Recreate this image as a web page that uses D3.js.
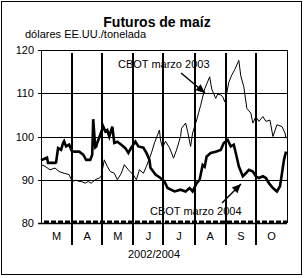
<!DOCTYPE html>
<html>
<head>
<meta charset="utf-8">
<script src="https://cdn.jsdelivr.net/npm/d3@7"></script>
<style>
  body { margin: 0; background: #fff; }
  text { font-family: "Liberation Sans", Arial, sans-serif; fill: #000; }
</style>
</head>
<body>
<svg id="chart"></svg>
<script>
// Chart size and plot area
const width = 305;
const height = 278;
const margin = { top: 50, right: 18, bottom: 55, left: 41 };

// Data
const monthLabels = ["M", "A", "M", "J", "J", "A", "S", "O"];
const yTicks = [80, 90, 100, 110, 120];

const mar03Dates = ["03-01", "03-05", "03-10", "03-15", "03-19", "03-24", "03-29",
  "04-01", "04-05", "04-08", "04-10", "04-14", "04-17", "04-20", "04-24", "04-28", "04-30",
  "05-03", "05-06", "05-09", "05-13", "05-16", "05-20", "05-23", "05-27",
  "06-01", "06-04", "06-07", "06-11", "06-14", "06-19", "06-22", "06-27", "06-28", "06-30",
  "07-03", "07-07", "07-11", "07-14", "07-18", "07-19", "07-23", "07-25", "07-28", "07-30",
  "08-03", "08-05", "08-07", "08-11", "08-16", "08-18", "08-22", "08-24", "08-27", "08-29", "08-31",
  "09-02", "09-04", "09-07", "09-10", "09-14", "09-16", "09-19", "09-22", "09-26", "09-28",
  "10-01", "10-04", "10-08", "10-11", "10-15", "10-18", "10-22", "10-27", "10-30", "10-31"];
const mar03Values = [93.5, 93.1, 92.3, 92.7, 91.9, 91.5, 91.2,
  89.6, 89.9, 89.6, 89.6, 89.2, 89.6, 89.2, 90.0, 90.4, 90.8,
  94.6, 93.1, 91.9, 91.5, 90.0, 91.5, 93.5, 92.3,
  91.1, 90.0, 92.3, 91.5, 93.1, 96.2, 98.5, 101.5, 99.2, 97.4,
  98.9, 97.4, 95.0, 96.9, 100.0, 101.9, 103.1, 101.2, 97.7, 100.8,
  103.8, 105.5, 107.2, 111.0, 113.8, 111.0, 108.8, 109.8, 109.6, 109.2, 108.0,
  110.0, 112.5, 114.2, 115.5, 117.6, 114.0, 111.5, 106.5, 105.4, 103.1,
  104.6, 103.5, 104.6, 103.5, 103.8, 100.0, 102.7, 102.3, 100.8, 99.6];

const mar04Dates = ["03-01", "03-04", "03-07", "03-08", "03-15", "03-16", "03-18", "03-21", "03-23", "03-24", "03-26", "03-29",
  "04-01", "04-08", "04-12", "04-15", "04-19", "04-21", "04-22", "04-24", "04-25", "04-26", "04-29",
  "05-02", "05-04", "05-06", "05-08", "05-11", "05-13", "05-16", "05-20", "05-24", "05-27", "05-30",
  "06-03", "06-06", "06-11", "06-14", "06-17", "06-18", "06-23", "06-28",
  "07-02", "07-05", "07-12", "07-18", "07-23", "07-27", "07-30",
  "08-03", "08-06", "08-09", "08-11", "08-13", "08-17", "08-22", "08-27", "08-30",
  "09-03", "09-06", "09-09", "09-11", "09-14", "09-18", "09-21", "09-24", "09-28",
  "10-01", "10-04", "10-08", "10-11", "10-14", "10-18", "10-22", "10-25", "10-27", "10-29", "10-31"];
const mar04Values = [94.5, 94.8, 95.1, 93.9, 93.9, 94.0, 97.3, 96.9, 98.5, 98.9, 97.7, 98.1,
  96.5, 96.5, 95.8, 94.6, 94.6, 95.8, 104.0, 97.5, 97.7, 98.5, 100.4,
  102.3, 101.2, 101.5, 100.0, 102.3, 98.5, 98.8, 98.1, 97.3, 96.2, 97.5,
  98.8, 97.7, 97.4, 96.2, 94.6, 92.8, 91.2, 90.4,
  89.6, 88.1, 87.3, 87.7, 87.3, 88.1, 87.3,
  89.2, 90.0, 93.4, 93.0, 95.4, 96.2, 96.5, 96.9, 98.5,
  99.2, 97.7, 98.1, 96.2, 93.1, 90.8, 91.5, 92.3, 91.9,
  90.8, 90.4, 90.8, 90.4, 89.2, 88.1, 87.3, 88.5, 91.5, 94.6, 96.5];

const parse = d3.timeParse("%Y-%m-%d");
const series = [
  { name: "CBOT marzo 2003", width: 1, points: mar03Dates.map((d, i) => ({ date: parse("2002-" + d), value: mar03Values[i] })) },
  { name: "CBOT marzo 2004", width: 2.6, points: mar04Dates.map((d, i) => ({ date: parse("2002-" + d), value: mar04Values[i] })) }
];

const svg = d3.select("#chart")
    .attr("width", width)
    .attr("height", height);

// outer frame
svg.append("rect")
    .attr("x", 1.5).attr("y", 1.5)
    .attr("width", 300).attr("height", 273)
    .attr("fill", "none").attr("stroke", "#000");

// titles
svg.append("text")
    .attr("x", 157).attr("y", 27)
    .attr("text-anchor", "middle")
    .style("font-size", "14px").style("font-weight", "bold")
    .text("Futuros de maíz");

svg.append("text")
    .attr("x", 25).attr("y", 38)
    .style("font-size", "11px")
    .text("dólares EE.UU./tonelada");

// scales
const start = new Date(2002, 2, 1);
const end = new Date(2002, 10, 1);
const x = d3.scaleTime()
    .domain([start, end])
    .range([margin.left, width - margin.right]);
const y = d3.scaleLinear()
    .domain([80, 120])
    .range([height - margin.bottom, margin.top]);

const x0 = margin.left, x1 = width - margin.right;

// horizontal grid / frame lines and y labels
svg.append("g").selectAll("line")
    .data(yTicks)
    .join("line")
    .attr("x1", x0 - 3).attr("x2", d => (d === 80 || d === 120 || true) ? x1 : x1)
    .attr("y1", d => Math.round(y(d)) + 0.5).attr("y2", d => Math.round(y(d)) + 0.5)
    .attr("stroke", "#000").attr("stroke-width", d => d === 80 ? 1.5 : 1);

svg.append("g").selectAll("text")
    .data(yTicks)
    .join("text")
    .attr("x", x0 - 7)
    .attr("y", d => y(d) + 4)
    .attr("text-anchor", "end")
    .style("font-size", "11px")
    .text(d => d);

// left and right frame
svg.append("line")
    .attr("x1", x0 + 0.5).attr("x2", x0 + 0.5)
    .attr("y1", y(120)).attr("y2", y(80))
    .attr("stroke", "#000");
svg.append("line")
    .attr("x1", x1 + 0.5).attr("x2", x1 + 0.5)
    .attr("y1", y(120)).attr("y2", y(80))
    .attr("stroke", "#000");

// daily ticks along the bottom (trading days)
const days = d3.timeDay.range(start, end).filter(d => d.getDay() % 6 !== 0);
svg.append("g").selectAll("line")
    .data(days)
    .join("line")
    .attr("x1", d => Math.round(x(d)) + 0.5).attr("x2", d => Math.round(x(d)) + 0.5)
    .attr("y1", y(80)).attr("y2", y(80) - 2.5)
    .attr("stroke", "#000");

// series
const line = d3.line()
    .x(d => x(d.date))
    .y(d => y(d.value));

svg.append("g").selectAll("path")
    .data(series)
    .join("path")
    .attr("d", d => line(d.points))
    .attr("fill", "none")
    .attr("stroke", "#000")
    .attr("stroke-width", d => d.width)
    .attr("stroke-linejoin", "miter");

// month dividers
const months = d3.timeMonth.range(start, end);
svg.append("g").selectAll("line")
    .data(months.slice(1))
    .join("line")
    .attr("x1", d => Math.round(x(d))).attr("x2", d => Math.round(x(d)))
    .attr("y1", margin.top + 3).attr("y2", 245)
    .attr("stroke", "#000").attr("stroke-width", 2);

// month labels
svg.append("g").selectAll("text")
    .data(months)
    .join("text")
    .attr("x", d => (x(d) + x(d3.timeMonth.offset(d, 1))) / 2)
    .attr("y", 240)
    .attr("text-anchor", "middle")
    .style("font-size", "11px")
    .text((d, i) => monthLabels[i]);

svg.append("text")
    .attr("x", 154).attr("y", 258)
    .attr("text-anchor", "middle")
    .style("font-size", "11px")
    .text("2002/2004");

// annotations
const notes = [
  { text: "CBOT marzo 2003", tx: 118, ty: 68, from: [181, 73], to: [205, 93] },
  { text: "CBOT marzo 2004", tx: 150, ty: 215, from: [222, 203], to: [241, 184] }
];

notes.forEach(n => {
  svg.append("text")
      .attr("x", n.tx).attr("y", n.ty)
      .style("font-size", "11px")
      .text(n.text);
  svg.append("line")
      .attr("x1", n.from[0]).attr("y1", n.from[1])
      .attr("x2", n.to[0]).attr("y2", n.to[1])
      .attr("stroke", "#000").attr("stroke-width", 1.5);
  const ang = Math.atan2(n.to[1] - n.from[1], n.to[0] - n.from[0]);
  const len = 9, half = 4;
  const bx = n.to[0] - len * Math.cos(ang), by = n.to[1] - len * Math.sin(ang);
  const pts = [
    n.to,
    [bx + half * Math.sin(ang), by - half * Math.cos(ang)],
    [bx - half * Math.sin(ang), by + half * Math.cos(ang)]
  ];
  svg.append("polygon")
      .attr("points", pts.map(p => p.join(",")).join(" "))
      .attr("fill", "#000");
});
</script>
</body>
</html>
